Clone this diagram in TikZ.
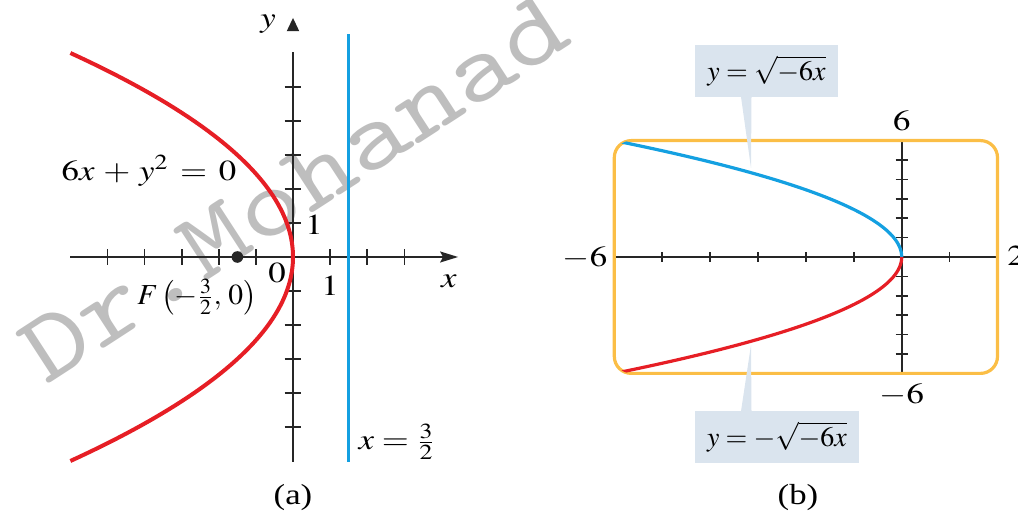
\documentclass[tikz,border=0pt]{standalone}
\usepackage{mathptmx}
\usepackage{fontspec}
\setmainfont{Liberation Serif}
\newfontfamily\wmfont{lmmono10-regular.otf}
\usetikzlibrary{arrows.meta}
\definecolor{parred}{RGB}{230,30,37}
\definecolor{parblue}{RGB}{20,160,225}
\definecolor{winorange}{RGB}{251,190,70}
\definecolor{callfill}{RGB}{218,228,238}
\definecolor{wmgray}{RGB}{190,190,190}
\tikzset{
  lbl/.style={font=\fontsize{14.5}{16}\selectfont, inner sep=0pt, xscale=1.2},
  axisline/.style={line width=0.8pt, black!85},
  ticksty/.style={line width=0.8pt, black!85},
  callout/.style={fill=callfill, inner sep=0pt, font=\fontsize{14}{16}\selectfont}
}
\begin{document}
\begin{tikzpicture}[x=0.5pt, y=-0.5pt]
  \useasboundingbox (0,0) rectangle (1018,517);

  % 水印
  \node[wmgray, font=\wmfont\fontsize{50}{52}\selectfont, rotate=33, xscale=1.2,
        anchor=base west, inner sep=0pt] (wm) at (46,386) {Dr.Mohanad};

  % (a) 抛物线 6x + y^2 = 0
  \begin{scope}[shift={(293,257)}, x=18.55pt, y=17pt]
    % 坐标轴
    \draw[axisline, -{Stealth[length=9pt, width=5.5pt, inset=1.5pt]}] (-6.01,0) -- (4.45,0);
    \draw[axisline] (0,-6.02) -- (0,6.03);
    \fill[black!85] (-0.17,6.64) -- (0,7.03) -- (0.17,6.64) -- cycle;
    \foreach \i in {-5,...,-1,1,2,3}
      \draw[ticksty] ([yshift=-4pt]\i,0) -- ([yshift=4pt]\i,0);
    \foreach \j in {-5,...,-1,1,2,...,5}
      \draw[ticksty] ([xshift=-4.2pt]0,\j) -- ([xshift=4.2pt]0,\j);
    % 曲线与准线
    \draw[parred, line width=2pt] plot[domain=-6:6, samples=90, variable=\t] ({-\t*\t/6}, \t);
    \draw[parblue, line width=1.8pt] (1.5,-6.02) -- (1.5,6.56);
    \node[circle, fill=black!85, inner sep=0pt, minimum size=5.8pt] (F) at (-1.5,0) {};
  \end{scope}

  % (a) 标注
  \node[lbl] (ylab) at (268,24) {$y$};
  \node[lbl] (eqn) at (149,171) {$6x \,+\, y^2 \,=\, 0$};
  \node[lbl] (yone) at (314,225) {$1$};
  \node[lbl] (orig) at (277,273) {$0$};
  \node[lbl] (xone) at (330,286) {$1$};
  \node[lbl] (xlab) at (449,281) {$x$};
  \node[lbl, xscale=0.85] (focus) at (197,297) {$F\left(-\frac{3}{2},\, 0\right)$};
  \node[lbl] (dirx) at (397,442) {$x = \frac{3}{2}$};
  \node[lbl] (capa) at (293,498) {(a)};

  % (b) 图形窗口 [-6,2] x [-6,6]
  \begin{scope}[shift={(901.7,257)}, x=23.95pt, y=9.7pt]
    % 坐标轴
    \draw[axisline] (-6,0) -- (2,0);
    \draw[axisline] (0,-6) -- (0,6);
    \foreach \i in {-5,...,-1,1}
      \draw[ticksty] ([yshift=-2.5pt]\i,0) -- ([yshift=2.5pt]\i,0);
    \foreach \j in {-5,...,-1,1,2,...,5}
      \draw[ticksty] ([xshift=-3pt]0,\j) -- ([xshift=3pt]0,\j);
    % 窗口边框
    \draw[winorange, line width=1.6pt, rounded corners=8.5pt] (-6,-6) rectangle (2,6);
  \end{scope}

  % (b) 标注框
  \node[callout, minimum width=71.5pt, minimum height=26pt] (upbox) at (766.5,71) {$y = \sqrt{-6x}$};
  \coordinate (uptip) at (751,168);
  \fill[callfill] ([xshift=-12.75pt, yshift=0.3pt]upbox.south) -- (uptip)
    -- ([xshift=-7.5pt, yshift=0.3pt]upbox.south) -- cycle;
  \node[callout, minimum width=82pt, minimum height=26pt] (lowbox) at (777,437) {$y = -\sqrt{-6x}$};
  \coordinate (lowtip) at (751,345);
  \fill[callfill] ([xshift=-18pt, yshift=-0.3pt]lowbox.north) -- (lowtip)
    -- ([xshift=-12.75pt, yshift=-0.3pt]lowbox.north) -- cycle;

  % (b) 曲线
  \begin{scope}[shift={(901.7,257)}, x=23.95pt, y=9.7pt]
    \clip[rounded corners=8.5pt] (-6,-6) rectangle (2,6);
    \draw[parblue, line width=1.6pt] plot[domain=0:6, samples=70, variable=\t] ({-\t*\t/6}, \t);
    \draw[parred, line width=1.6pt] plot[domain=-6:0, samples=70, variable=\t] ({-\t*\t/6}, \t);
  \end{scope}

  % (b) 刻度数
  \node[lbl] (ysix) at (901.7,121) {$6$};
  \node[lbl] (xmsix) at (585,258) {$-6$};
  \node[lbl, anchor=west] (xtwo) at (1007,256) {$2$};
  \node[lbl] (ymsix) at (901.7,395) {$-6$};
  \node[lbl] (capb) at (798,498) {(b)};
\end{tikzpicture}
\end{document}
